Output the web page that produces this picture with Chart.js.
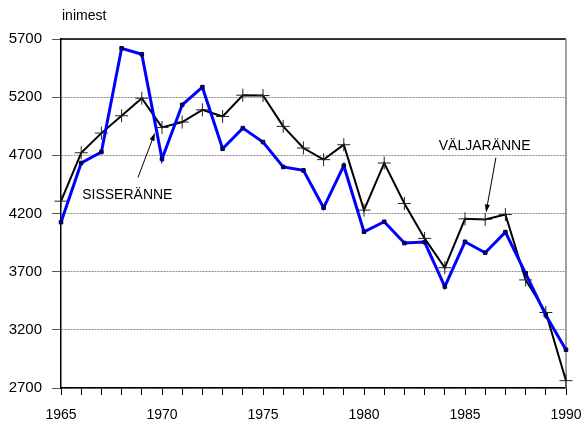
<!DOCTYPE html>
<html lang="et">
<head>
  <meta charset="UTF-8" />
  <title>Sisseränne ja väljaränne</title>
  <style>
    body { margin: 0; background: #fff; }
    #wrap { width: 582px; height: 425px; }
  </style>
</head>
<body>
  <div id="wrap"><canvas id="migChart" width="582" height="425"></canvas></div>

  <script src="https://cdn.jsdelivr.net/npm/chart.js"></script>
  <script>
    // years 1965..1990
    const years = [1965, 1966, 1967, 1968, 1969, 1970, 1971, 1972, 1973, 1974, 1975, 1976, 1977,
                   1978, 1979, 1980, 1981, 1982, 1983, 1984, 1985, 1986, 1987, 1988, 1989, 1990];

    // SISSERÄNNE (blue)
    const sisseranne = [4125, 4634, 4729, 5620, 5569, 4669, 5134, 5286, 4757, 4934, 4814, 4600, 4571,
                        4249, 4611, 4043, 4129, 3946, 3954, 3572, 3957, 3863, 4040, 3686, 3326, 3029];

    // VÄLJARÄNNE (black)
    const valjaranne = [4306, 4722, 4891, 5040, 5191, 4940, 4986, 5091, 5034, 5217, 5214, 4949, 4763,
                        4663, 4791, 4229, 4634, 4286, 3986, 3734, 4154, 4149, 4191, 3629, 3349, 2763];

    const yTicks = [2700, 3200, 3700, 4200, 4700, 5200, 5700];
    const xLabels = [1965, 1970, 1975, 1980, 1985, 1990];

    const FONT = "'Liberation Sans', Arial, sans-serif";

    function arrow(ctx, x1, y1, x2, y2) {
      const ang = Math.atan2(y2 - y1, x2 - x1);
      const len = 8, half = 2.5;
      ctx.beginPath();
      ctx.moveTo(x1, y1);
      ctx.lineTo(x2 - Math.cos(ang) * len * 0.8, y2 - Math.sin(ang) * len * 0.8);
      ctx.stroke();
      ctx.beginPath();
      ctx.moveTo(x2, y2);
      ctx.lineTo(x2 - Math.cos(ang) * len - Math.sin(ang) * half, y2 - Math.sin(ang) * len + Math.cos(ang) * half);
      ctx.lineTo(x2 - Math.cos(ang) * len + Math.sin(ang) * half, y2 - Math.sin(ang) * len - Math.cos(ang) * half);
      ctx.closePath();
      ctx.fill();
    }

    const frame = {
      id: 'frame',
      beforeDatasetsDraw(chart) {
        const { ctx, chartArea: a } = chart;
        ctx.save();
        ctx.lineWidth = 1.5;
        ctx.strokeStyle = '#000';
        ctx.beginPath();
        ctx.moveTo(a.left, a.top);
        ctx.lineTo(a.right, a.top);
        ctx.stroke();
        ctx.strokeStyle = '#808080';
        ctx.beginPath();
        ctx.moveTo(a.right, a.top);
        ctx.lineTo(a.right, a.bottom);
        ctx.stroke();
        ctx.restore();
      },
      afterDraw(chart) {
        const { ctx, scales: { x, y } } = chart;
        ctx.save();
        ctx.fillStyle = '#000';
        ctx.font = '14px ' + FONT;
        ctx.textBaseline = 'middle';
        ctx.textAlign = 'left';
        ctx.fillText('inimest', 62, 16);

        ctx.fillText('SISSERÄNNE', x.getPixelForValue(1966.05), y.getPixelForValue(4354));
        ctx.fillText('VÄLJARÄNNE', x.getPixelForValue(1983.7), y.getPixelForValue(4783));

        ctx.lineWidth = 1;
        ctx.strokeStyle = '#000';
        arrow(ctx, x.getPixelForValue(1968.81), y.getPixelForValue(4509),
                   x.getPixelForValue(1969.65), y.getPixelForValue(4894));
        arrow(ctx, x.getPixelForValue(1986.53), y.getPixelForValue(4680),
                   x.getPixelForValue(1986.04), y.getPixelForValue(4209));
        ctx.restore();
      }
    };

    const ctx = document.getElementById('migChart').getContext('2d');

    new Chart(ctx, {
      type: 'line',
      data: {
        datasets: [
          {
            label: 'SISSERÄNNE',
            data: years.map((yr, i) => ({ x: yr, y: sisseranne[i] })),
            borderColor: '#0000ff',
            borderWidth: 3,
            pointStyle: 'rect',
            pointRadius: 2.5,
            pointBackgroundColor: '#000080',
            pointBorderColor: '#000040',
            pointBorderWidth: 1,
            tension: 0,
            order: 1
          },
          {
            label: 'VÄLJARÄNNE',
            data: years.map((yr, i) => ({ x: yr, y: valjaranne[i] })),
            borderColor: '#000',
            borderWidth: 2,
            pointStyle: 'cross',
            pointRadius: 6.5,
            pointBorderColor: '#222',
            pointBorderWidth: 1,
            tension: 0,
            order: 2
          }
        ]
      },
      options: {
        responsive: false,
        animation: false,
        clip: false,
        layout: { padding: { top: 39, right: 16, bottom: 0, left: 0 } },
        plugins: {
          legend: { display: false },
          tooltip: { enabled: false }
        },
        scales: {
          x: {
            type: 'linear',
            min: 1965,
            max: 1990,
            afterFit: (s) => { s.height = 37; s.paddingRight = 0; s.paddingLeft = 0; },
            afterBuildTicks: (s) => { s.ticks = years.map(v => ({ value: v })); },
            ticks: {
              autoSkip: false,
              maxRotation: 0,
              padding: 12,
              color: '#000',
              font: { family: FONT, size: 14 },
              callback: (v) => xLabels.includes(v) ? String(v) : ''
            },
            grid: {
              drawOnChartArea: false,
              drawTicks: true,
              tickLength: 7,
              tickColor: '#000'
            },
            border: { color: '#000', width: 1.5 }
          },
          y: {
            min: 2700,
            max: 5700,
            afterFit: (s) => { s.width = 61; s.paddingTop = 0; s.paddingBottom = 0; },
            afterBuildTicks: (s) => { s.ticks = yTicks.map(v => ({ value: v })); },
            ticks: {
              padding: 10,
              color: '#000',
              font: { family: FONT, size: 15 },
              callback: (v) => String(v)
            },
            grid: {
              color: '#8a8a8a',
              lineWidth: 1,
              tickLength: 9,
              tickColor: '#555'
            },
            border: { color: '#000', width: 1.5, dash: [2, 1] }
          }
        }
      },
      plugins: [frame]
    });
  </script>
</body>
</html>
